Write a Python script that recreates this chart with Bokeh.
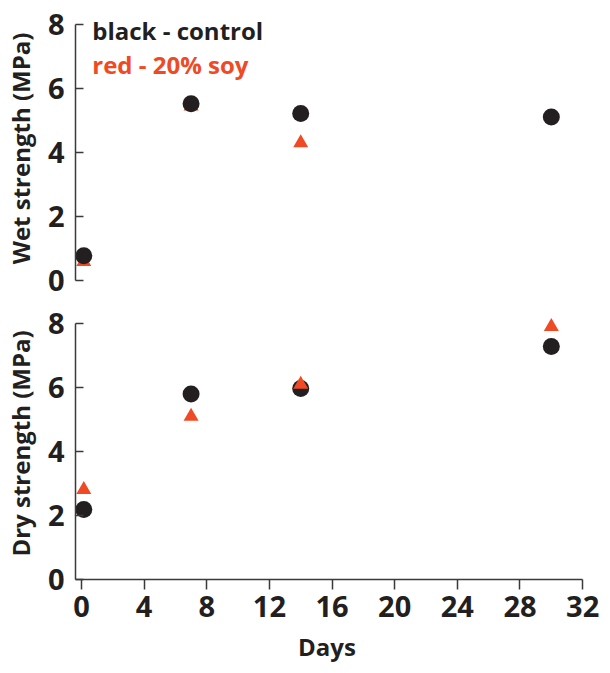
from bokeh.plotting import figure
from bokeh.layouts import column
from bokeh.models import Range1d, Label, FixedTicker, Div
from bokeh.embed import file_html
from bokeh.resources import INLINE

# ---- data ----
days_control = [0.15, 7, 14, 30]
wet_control = [0.77, 5.52, 5.22, 5.11]
days_soy_wet = [0.15, 7, 14]
wet_soy = [0.59, 5.45, 4.30]

days_soy_dry = [0.15, 7, 14, 30]
dry_control = [2.19, 5.80, 5.97, 7.28]
dry_soy = [2.81, 5.10, 6.10, 7.90]

y_ticks = [0, 2, 4, 6, 8]
x_ticks = [0, 4, 8, 12, 16, 20, 24, 28, 32]
x_title = "Days"

BLACK = "#231f20"
RED = "#ef4a24"
AXIS = "#3a3a3a"
FONT = "Open Sans"

X0 = -0.379
X1 = 32.31


def style_y(p, label):
    ax = p.yaxis[0]
    ax.ticker = FixedTicker(ticks=y_ticks)
    ax.bounds = (0, 8)
    ax.axis_label = label
    ax.axis_label_text_font = FONT
    ax.axis_label_text_font_style = "bold"
    ax.axis_label_text_font_size = "24px"
    ax.axis_label_text_color = BLACK
    ax.axis_label_standoff = 8
    ax.major_label_text_font = FONT
    ax.major_label_text_font_style = "bold"
    ax.major_label_text_font_size = "29px"
    ax.major_label_text_color = BLACK
    ax.major_label_standoff = 11
    ax.major_tick_in = 8
    ax.major_tick_out = 0
    ax.minor_tick_in = 0
    ax.minor_tick_out = 0
    ax.axis_line_color = AXIS
    ax.axis_line_width = 1.5
    ax.major_tick_line_color = AXIS
    ax.major_tick_line_width = 1.5


x_range = Range1d(X0, X1)

p1 = figure(frame_width=512, frame_height=296, x_range=x_range, y_range=Range1d(-0.5, 8.75),
            output_backend="svg", toolbar_location=None, x_axis_location=None,
            min_border_left=70, min_border_right=12, min_border_top=0, min_border_bottom=6)
p1.grid.visible = False
p1.outline_line_color = None
style_y(p1, "Wet strength (MPa)")

p1.scatter(days_soy_wet, wet_soy, marker="triangle", size=15, fill_color=RED, line_color=None)
p1.scatter(days_control, wet_control, marker="circle", size=17, fill_color=BLACK, line_color=None)

p1.add_layout(Label(x=0.69, y=7.81, text="black - control", text_font=FONT,
                    text_font_style="bold", text_font_size="24px", text_color=BLACK,
                    text_baseline="alphabetic"))
p1.add_layout(Label(x=0.69, y=6.75, text="red - 20% soy", text_font=FONT,
                    text_font_style="bold", text_font_size="24px", text_color=RED,
                    text_baseline="alphabetic"))

p2 = figure(frame_width=512, frame_height=272, x_range=x_range, y_range=Range1d(0, 8.5),
            output_backend="svg", toolbar_location=None,
            min_border_left=70, min_border_right=12, min_border_top=5, min_border_bottom=58)
p2.grid.visible = False
p2.outline_line_color = None
style_y(p2, "Dry strength (MPa)")

xa = p2.xaxis[0]
xa.ticker = FixedTicker(ticks=x_ticks)
xa.bounds = (X0, 32)
xa.major_label_text_font = FONT
xa.major_label_text_font_style = "bold"
xa.major_label_text_font_size = "29px"
xa.major_label_text_color = BLACK
xa.major_label_standoff = 6
xa.major_tick_in = 0
xa.major_tick_out = 10
xa.minor_tick_in = 0
xa.minor_tick_out = 0
xa.axis_line_color = AXIS
xa.axis_line_width = 1.5
xa.major_tick_line_color = AXIS
xa.major_tick_line_width = 1.5

p2.scatter(days_control, dry_control, marker="circle", size=17, fill_color=BLACK, line_color=None)
p2.scatter(days_soy_dry, dry_soy, marker="triangle", size=15, fill_color=RED, line_color=None)

days_div = Div(
    text=(f'<div style="position:relative; left:30px; width:594px; text-align:center; '
          f'line-height:20px; height:20px; font-family:\'{FONT}\'; font-weight:bold; '
          f'font-size:24px; color:{BLACK}; white-space:nowrap;">{x_title}</div>'),
    width=594, height=20, margin=(0, 0, 0, 0))

layout = column(p1, p2, days_div, spacing=0)
open("out.html", "w").write(file_html(layout, INLINE))
